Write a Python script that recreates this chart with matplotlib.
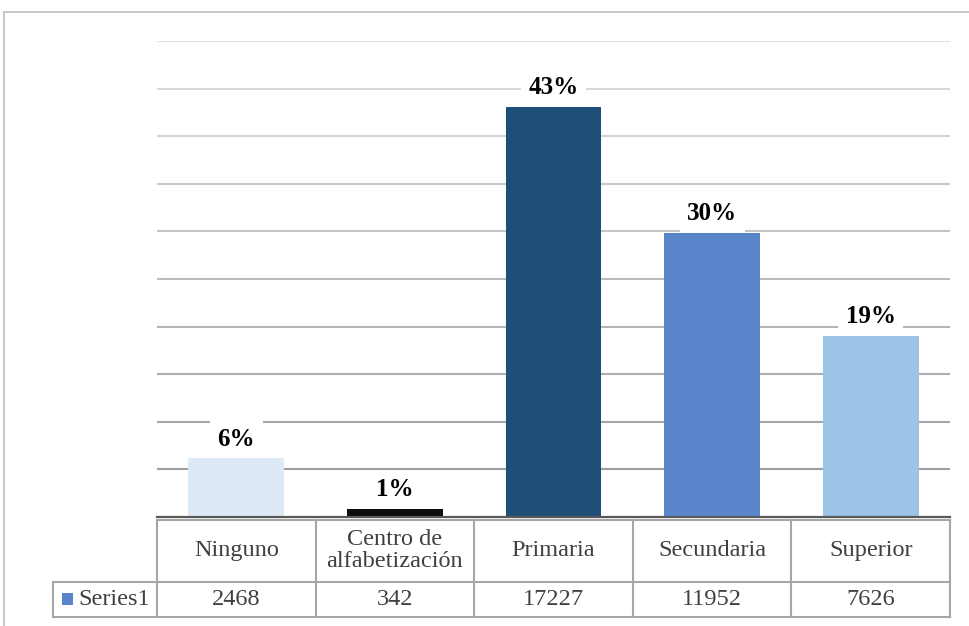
import matplotlib.pyplot as plt
import numpy as np
from matplotlib.patches import Rectangle

# Datos del grafico
categorias = ["Ninguno", "Centro de\nalfabetización", "Primaria", "Secundaria", "Superior"]
valores = [2468, 342, 17227, 11952, 7626]
colores = ["#dde9f5", "#0d0d0d", "#1f4e79", "#5b85cb", "#9dc3e6"]
serie = "Series1"
color_serie = "#5b85cb"

plt.rcParams['font.family'] = ['Liberation Serif', 'DejaVu Serif']

total = sum(valores)
W, H = 970, 626

fig = plt.figure(figsize=(W / 100, H / 100), dpi=100)
ax = fig.add_axes([157 / W, 1 - 517 / H, 793 / W, 476 / H])

x = np.arange(len(valores))
ax.set_xlim(-0.5, len(valores) - 0.5)
ax.set_ylim(0, 20000)

# cuadricula: lineas mas claras hacia arriba
niveles = np.arange(2000, 20001, 2000)
grises = np.linspace(0.62, 0.88, len(niveles))
for nivel, g in zip(niveles, grises):
    ax.axhline(nivel, color=(g, g, g), lw=1.5, zorder=1)

ax.bar(x, valores, width=0.605, color=colores, zorder=2)

# etiquetas de porcentaje con fondo blanco
for xi, v in zip(x, valores):
    ax.annotate(f"{round(100 * v / total)}%", xy=(xi, v), xytext=(0, 5.5),
                textcoords='offset points', ha='center', va='bottom',
                fontsize=18, fontweight='bold', color='black',
                bbox=dict(boxstyle='square,pad=0.3', fc='white', ec='none'),
                zorder=4)

for lado in ['top', 'left', 'right']:
    ax.spines[lado].set_visible(False)
ax.spines['bottom'].set_color('#595959')
ax.spines['bottom'].set_linewidth(1.6)
ax.spines['bottom'].set_zorder(5)
ax.set_xticks([])
ax.set_yticks([])

# tabla de datos: x en unidades de categoria, y en fraccion del eje
tr = ax.get_xaxis_transform()
y_sup = -2.5 / 476
y_med = -65 / 476
y_inf = -100 / 476
x_izq = -0.5 - 104 / 158.6
borde = dict(color='#a6a6a6', lw=1.5, transform=tr, clip_on=False)

ax.plot([-0.5, len(valores) - 0.5], [y_sup, y_sup], **borde)
ax.plot([x_izq, len(valores) - 0.5], [y_med, y_med], **borde)
ax.plot([x_izq, len(valores) - 0.5], [y_inf, y_inf], **borde)
for xb in np.arange(len(valores) + 1) - 0.5:
    ax.plot([xb, xb], [y_sup, y_inf], **borde)
ax.plot([x_izq, x_izq], [y_med, y_inf], **borde)

texto = dict(transform=tr, ha='center', va='center', fontsize=17.5,
             color='#404040', clip_on=False)
for xi, cat, v in zip(x, categorias, valores):
    ax.text(xi, (y_sup + y_med) / 2, cat, linespacing=1.05, **texto)
    ax.text(xi, (y_med + y_inf) / 2, str(v), **texto)

# etiqueta de la serie con su cuadrito de color
ax.text(x_izq + 25 / 158.6, (y_med + y_inf) / 2, serie, transform=tr,
        ha='left', va='center', fontsize=17.5, color='#404040', clip_on=False)
ax.add_patch(Rectangle((x_izq + 9 / 158.6, -(605 - 517) / 476), 11 / 158.6,
                       12 / 476, transform=tr, fc=color_serie, ec='none',
                       clip_on=False))

# borde del area del grafico
fig.add_artist(Rectangle((4.5 / W, -0.05), 1.1, 1.05 - 12.5 / H,
                         transform=fig.transFigure, fill=False,
                         ec='#bfbfbf', lw=1.2))

fig.savefig('out.png', dpi=100)
